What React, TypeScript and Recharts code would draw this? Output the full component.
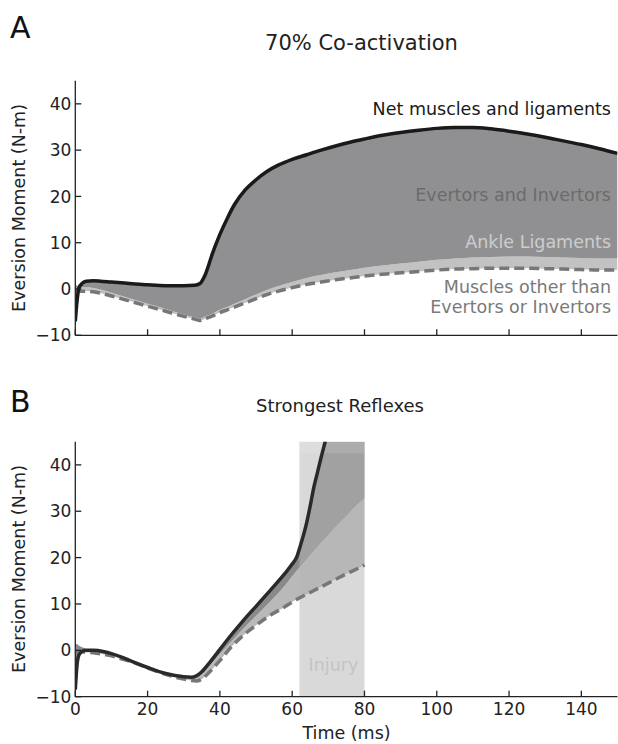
import React from "react";
import { ComposedChart, Area, Line, XAxis, YAxis, ReferenceArea } from "recharts";

// ---------- Panel A: 70% Co-activation ----------
const timeA = [0, 0.5, 1, 2, 3, 5, 7, 10, 15, 20, 25, 30, 33, 34.5, 36, 38, 40, 42, 44, 47, 50, 53, 56, 60, 64, 68, 72, 76, 80, 85, 90, 95, 100, 105, 110, 115, 120, 125, 130, 135, 140, 145, 150];
const netA = [-7, -2.5, 0.2, 1.3, 1.7, 1.8, 1.7, 1.5, 1.2, 0.9, 0.7, 0.7, 0.8, 1.2, 3.2, 7.8, 11.8, 15.2, 18.2, 21.4, 23.6, 25.4, 26.7, 28.0, 29.0, 30.0, 30.9, 31.7, 32.4, 33.2, 33.8, 34.3, 34.7, 34.9, 34.9, 34.6, 34.1, 33.5, 32.8, 32.0, 31.2, 30.3, 29.3];
const otherA = [-0.2, -0.3, -0.4, -0.5, -0.5, -0.6, -0.9, -1.5, -2.6, -3.7, -4.8, -5.9, -6.5, -6.8, -6.4, -5.8, -5.1, -4.5, -3.9, -3.0, -2.1, -1.2, -0.5, 0.3, 1.0, 1.5, 2.0, 2.4, 2.8, 3.2, 3.5, 3.8, 4.1, 4.3, 4.4, 4.5, 4.5, 4.5, 4.4, 4.3, 4.2, 4.1, 4.1];
const ligA = [1.0, 1.0, 1.0, 0.9, 0.9, 0.8, 0.8, 0.7, 0.6, 0.5, 0.5, 0.4, 0.4, 0.4, 0.5, 0.5, 0.6, 0.6, 0.7, 0.8, 0.9, 1.0, 1.1, 1.2, 1.4, 1.5, 1.6, 1.7, 1.8, 1.9, 2.0, 2.1, 2.2, 2.3, 2.4, 2.4, 2.5, 2.5, 2.5, 2.5, 2.5, 2.5, 2.5];

// ---------- Panel B: Strongest Reflexes ----------
const timeB = [0, 0.5, 1, 2, 3, 5, 8, 10, 13, 16, 20, 25, 30, 32, 33.5, 35, 37, 40, 43, 46, 50, 54, 58, 60, 61.3, 62.2, 64, 65, 66, 67, 68, 69, 70, 72, 75, 78, 80];
const netB: (number | null)[] = [-8.5, -3, -1, -0.2, 0, 0, -0.3, -0.7, -1.5, -2.5, -3.7, -5.0, -5.7, -5.8, -5.5, -4.6, -2.8, 0.2, 3.2, 6.0, 9.5, 13.0, 16.6, 18.6, 20.2, 22.4, 27.5, 31.2, 35.2, 38.4, 41.6, 44.6, 47.6, null, null, null, null];
const otherB = [-0.3, -0.3, -0.3, -0.3, -0.4, -0.5, -0.9, -1.2, -1.9, -2.6, -3.8, -5.2, -6.2, -6.5, -6.6, -6.2, -4.8, -2.2, 0.6, 2.9, 5.4, 7.6, 9.4, 10.4, 11.0, 11.4, 12.1, 12.5, 12.9, 13.3, 13.7, 14.1, 14.5, 15.3, 16.5, 17.6, 18.4];
const ligB = [1.8, 1.6, 1.3, 0.9, 0.7, 0.6, 0.6, 0.5, 0.4, 0.1, 0.1, 0.2, 0.4, 0.6, 0.9, 1.2, 1.4, 1.4, 1.2, 1.4, 2.0, 3.0, 4.6, 5.6, 6.2, 6.6, 7.5, 8.0, 8.5, 9.0, 9.5, 9.9, 10.4, 11.3, 12.5, 13.8, 14.4];
const injuryWindow = [62, 80];

const xTicks = [0, 20, 40, 60, 80, 100, 120, 140];
const yTicks = [-10, 0, 10, 20, 30, 40];
const Y_MIN = -10;
const Y_MAX = 45;

const dataA = timeA.map((t, i) => ({
  t,
  net: netA[i],
  other: otherA[i],
  ligBand: [otherA[i], otherA[i] + ligA[i]],
  evBand: [otherA[i] + ligA[i], netA[i]],
}));

const dataB = timeB.map((t, i) => {
  const n = netB[i];
  const top = n == null ? Y_MAX : Math.min(n, Y_MAX);
  return {
    t,
    net: n,
    other: otherB[i],
    ligBand: [otherB[i], otherB[i] + ligB[i]],
    evBand: [otherB[i] + ligB[i], top],
  };
});

const FONT = "DejaVu Sans";
const AX = "#222";
const Y_MARGIN = 4;
const X_MARGIN = 6;

const fmt = (v: number) => (v < 0 ? "\u2212" + Math.abs(v) : String(v));

const YTick = (props: any) => {
  const { x, y, payload } = props;
  const ax = x + Y_MARGIN;
  return (
    <g>
      <line x1={ax} y1={y} x2={ax + 6} y2={y} stroke={AX} strokeWidth={1.3} />
      <text x={x} y={y} dy="0.36em" textAnchor="end" fontSize={17} fill={AX} fontFamily={FONT}>
        {fmt(payload.value)}
      </text>
    </g>
  );
};

const XTickNoLabel = (props: any) => {
  const { x, y } = props;
  const ay = y - X_MARGIN;
  return <line x1={x} y1={ay} x2={x} y2={ay - 6} stroke={AX} strokeWidth={1.3} />;
};

const XTick = (props: any) => {
  const { x, y, payload } = props;
  const ay = y - X_MARGIN;
  return (
    <g>
      <line x1={x} y1={ay} x2={x} y2={ay - 6} stroke={AX} strokeWidth={1.3} />
      <text x={x} y={ay + 18.5} textAnchor="middle" fontSize={17} fill={AX} fontFamily={FONT}>
        {fmt(payload.value)}
      </text>
    </g>
  );
};

const axisLine = { stroke: AX, strokeWidth: 1.3 };

export default function App() {
  return (
    <div style={{ position: "absolute", left: 0, top: 0, width: 618, height: 744, background: "#fff", fontFamily: FONT }}>
      <div style={{ position: "absolute", left: 0, top: 0 }}>
        <ComposedChart width={618} height={350} data={dataA} margin={{ top: 80.7, right: 0.5, bottom: 0, left: 0 }}>
          <XAxis
            dataKey="t"
            type="number"
            domain={[0, 150]}
            ticks={xTicks}
            allowDataOverflow
            height={14.7}
            tickSize={0}
            tickMargin={X_MARGIN}
            tick={<XTickNoLabel />}
            axisLine={axisLine}
            tickLine={false}
          />
          <YAxis
            type="number"
            domain={[Y_MIN, Y_MAX]}
            ticks={yTicks}
            allowDataOverflow
            width={75.3}
            tickSize={0}
            tickMargin={Y_MARGIN}
            tick={<YTick />}
            axisLine={axisLine}
            tickLine={false}
          />
          <Area dataKey="ligBand" type="monotone" stroke="none" fill="#c2c2c2" fillOpacity={1} isAnimationActive={false} />
          <Area dataKey="evBand" type="monotone" stroke="none" fill="#909092" fillOpacity={1} isAnimationActive={false} />
          <Line dataKey="other" type="monotone" stroke="#777777" strokeWidth={3.5} strokeDasharray="10 5" dot={false} isAnimationActive={false} />
          <Line dataKey="net" type="monotone" stroke="#1a1a1a" strokeWidth={3.5} dot={false} isAnimationActive={false} />
        </ComposedChart>
      </div>
      <div style={{ position: "absolute", left: 0, top: 360 }}>
        <ComposedChart width={618} height={384} data={dataB} margin={{ top: 81.7, right: 0.5, bottom: 0, left: 0 }}>
          <XAxis
            dataKey="t"
            type="number"
            domain={[0, 150]}
            ticks={xTicks}
            allowDataOverflow
            height={47.3}
            tickSize={0}
            tickMargin={X_MARGIN}
            tick={<XTick />}
            axisLine={axisLine}
            tickLine={false}
          />
          <YAxis
            type="number"
            domain={[Y_MIN, Y_MAX]}
            ticks={yTicks}
            allowDataOverflow
            width={75.3}
            tickSize={0}
            tickMargin={Y_MARGIN}
            tick={<YTick />}
            axisLine={axisLine}
            tickLine={false}
          />
          <Area dataKey="ligBand" type="monotone" stroke="none" fill="#b9b9b9" fillOpacity={1} isAnimationActive={false} />
          <Area dataKey="evBand" type="monotone" stroke="none" fill="#8a8a8a" fillOpacity={1} isAnimationActive={false} />
          <ReferenceArea
            x1={injuryWindow[0]}
            x2={injuryWindow[1]}
            y1={Y_MIN}
            y2={Y_MAX}
            fill="#b6b6b6"
            fillOpacity={0.52}
            stroke="none"
            zIndex={250}
          />
          <ReferenceArea
            x1={injuryWindow[0]}
            x2={injuryWindow[1]}
            y1={42.5}
            y2={Y_MAX}
            fill="#ffffff"
            fillOpacity={0.12}
            stroke="none"
            zIndex={260}
          />
          <Line dataKey="other" type="monotone" stroke="#777777" strokeWidth={3.5} strokeDasharray="10 5" dot={false} isAnimationActive={false} />
          <Line dataKey="net" type="monotone" stroke="#2a2a2a" strokeWidth={3.5} dot={false} isAnimationActive={false} />
        </ComposedChart>
      </div>
      <svg width={618} height={744} style={{ position: "absolute", left: 0, top: 0, pointerEvents: "none" }} fontFamily={FONT}>
        <text x={10} y={38} fontSize={30} fill="#111">A</text>
        <text x={361.5} y={50} fontSize={21} fill="#222" textAnchor="middle">70% Co-activation</text>
        <text x={24.5} y={208} fontSize={17.5} fill="#222" textAnchor="middle" transform="rotate(-90 24.5 208)">Eversion Moment (N-m)</text>
        <text x={611} y={115} fontSize={17.5} fill="#1a1a1a" textAnchor="end">Net muscles and ligaments</text>
        <text x={611} y={200.7} fontSize={17.5} fill="#6b6b6b" textAnchor="end">Evertors and Invertors</text>
        <text x={611} y={248.3} fontSize={17.5} fill="#cdcdcd" textAnchor="end">Ankle Ligaments</text>
        <text x={611} y={293.3} fontSize={17.5} fill="#7a7a7a" textAnchor="end">Muscles other than</text>
        <text x={611} y={313.3} fontSize={17.5} fill="#7a7a7a" textAnchor="end">Evertors or Invertors</text>

        <text x={10} y={412} fontSize={30} fill="#111">B</text>
        <text x={340} y={412} fontSize={18} fill="#222" textAnchor="middle">Strongest Reflexes</text>
        <text x={24.5} y={569} fontSize={17.5} fill="#222" textAnchor="middle" transform="rotate(-90 24.5 569)">Eversion Moment (N-m)</text>
        <text x={333.5} y={670.7} fontSize={17.5} fill="#c4c4c4" textAnchor="middle">Injury</text>
        <text x={346.5} y={739} fontSize={17.5} fill="#222" textAnchor="middle">Time (ms)</text>
      </svg>
    </div>
  );
}
